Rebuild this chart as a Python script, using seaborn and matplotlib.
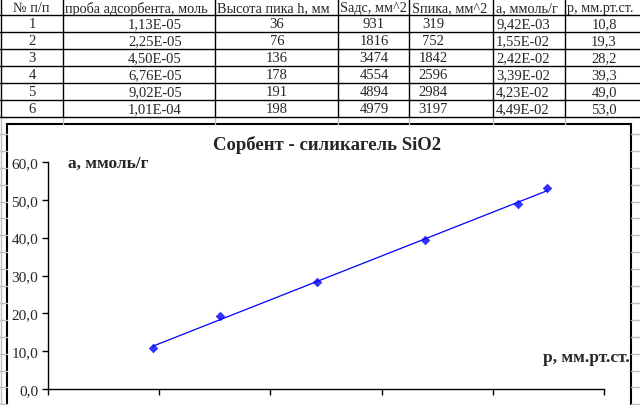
import numpy as np
import pandas as pd
import seaborn as sns
import matplotlib.pyplot as plt

# table contents, as shown in the sheet
headers = ['№ п/п', 'проба адсорбента, моль', 'Высота пика h, мм', 'Sадс, мм^2',
           'Sпика, мм^2', 'а, ммоль/г', 'р, мм.рт.ст.']
num = ['1', '2', '3', '4', '5', '6']
sample = ['1,13E-05', '2,25E-05', '4,50E-05', '6,76E-05', '9,02E-05', '1,01E-04']
peak_h = ['36', '76', '136', '178', '191', '198']
s_ads = ['931', '1816', '3474', '4554', '4894', '4979']
s_peak = ['319', '752', '1842', '2596', '2984', '3197']
a_text = ['9,42E-03', '1,55E-02', '2,42E-02', '3,39E-02', '4,23E-02', '4,49E-02']
p_text = ['10,8', '19,3', '28,2', '39,3', '49,0', '53,0']

a = [float(v.replace(',', '.')) for v in a_text]
p = [float(v.replace(',', '.')) for v in p_text]
df = pd.DataFrame({'a': a, 'p': p})

sns.set_style('white')
plt.rcParams['font.family'] = ['Liberation Serif', 'DejaVu Serif']

fig = plt.figure(figsize=(6.4, 4.06), dpi=100)

# background layer in pixel coordinates (sheet grid + table)
bg = fig.add_axes([0, 0, 1, 1])
bg.set_xlim(0, 640)
bg.set_ylim(406, 0)
bg.axis('off')

col_edges = [0.5, 63, 215, 338, 409, 493, 565]
row_edges = [16, 33, 50, 67, 84, 101, 118]
grey = '#c0c0c0'

# excel grid around the chart
for y in np.arange(118, 406, 16.9):
    bg.plot([0, 7], [y, y], color=grey, lw=1)
    bg.plot([631, 640], [y, y], color=grey, lw=1)
bg.plot([1, 1], [118, 406], color=grey, lw=1)
for x in col_edges[1:]:
    bg.plot([x, x], [118, 125], color=grey, lw=1)

# table borders
for y in row_edges:
    bg.plot([0, 640], [y, y], color='black', lw=1)
for x in col_edges:
    bg.plot([x, x], [0, 118], color='black', lw=1)

header_x = [31, 65, 217, 340, 412, 496, 567]
header_ha = ['center', 'left', 'left', 'left', 'left', 'left', 'left']
for h, x, ha in zip(headers, header_x, header_ha):
    bg.text(x, 8.5, h, ha=ha, va='center', fontsize=10.3)

centers = [32, 155, 277, 374, 433, 523, 604]
columns = [num, sample, peak_h, s_ads, s_peak, a_text, p_text]
for cx, col in zip(centers, columns):
    for i, v in enumerate(col):
        yc = (row_edges[i] + row_edges[i + 1]) / 2
        bg.text(cx, yc, v, ha='center', va='center', fontsize=10.5)

# chart frame
bg.add_patch(plt.Rectangle((7, 125), 624, 300, facecolor='white',
                           edgecolor='black', lw=1.5))

bg.text(327, 145, 'Сорбент - силикагель SiO2', ha='center', va='center',
        fontsize=13.5, fontweight='bold')
bg.text(68, 164, 'а, ммоль/г', ha='left', va='center', fontsize=12.5,
        fontweight='bold')
bg.text(630, 358, 'р, мм.рт.ст.', ha='right', va='center', fontsize=12.5,
        fontweight='bold')

# plot area
ax = fig.add_axes([48 / 640, 16 / 406, 556 / 640, 227 / 406])
ax.patch.set_alpha(0)
sns.regplot(data=df, x='a', y='p', ax=ax, ci=None, marker='D', color='blue',
            scatter_kws={'s': 24, 'linewidths': 0},
            line_kws={'lw': 0.9})

ax.set_xlim(0, 0.05)
ax.set_ylim(0, 60)
ax.set_xticks(np.arange(0, 0.051, 0.01))
ax.set_xticklabels([])
yt = np.arange(0, 61, 10)
ax.set_yticks(yt)
ax.set_yticklabels([f'{v:.1f}'.replace('.', ',') for v in yt], fontsize=11)
ax.set_xlabel('')
ax.set_ylabel('')
for s in ['top', 'right']:
    ax.spines[s].set_visible(False)
for s in ['left', 'bottom']:
    ax.spines[s].set_color('black')
    ax.spines[s].set_linewidth(1)
ax.tick_params(direction='out', length=4, width=1, color='black', pad=3,
               left=True, bottom=True)

fig.savefig('out.png', dpi=100)
